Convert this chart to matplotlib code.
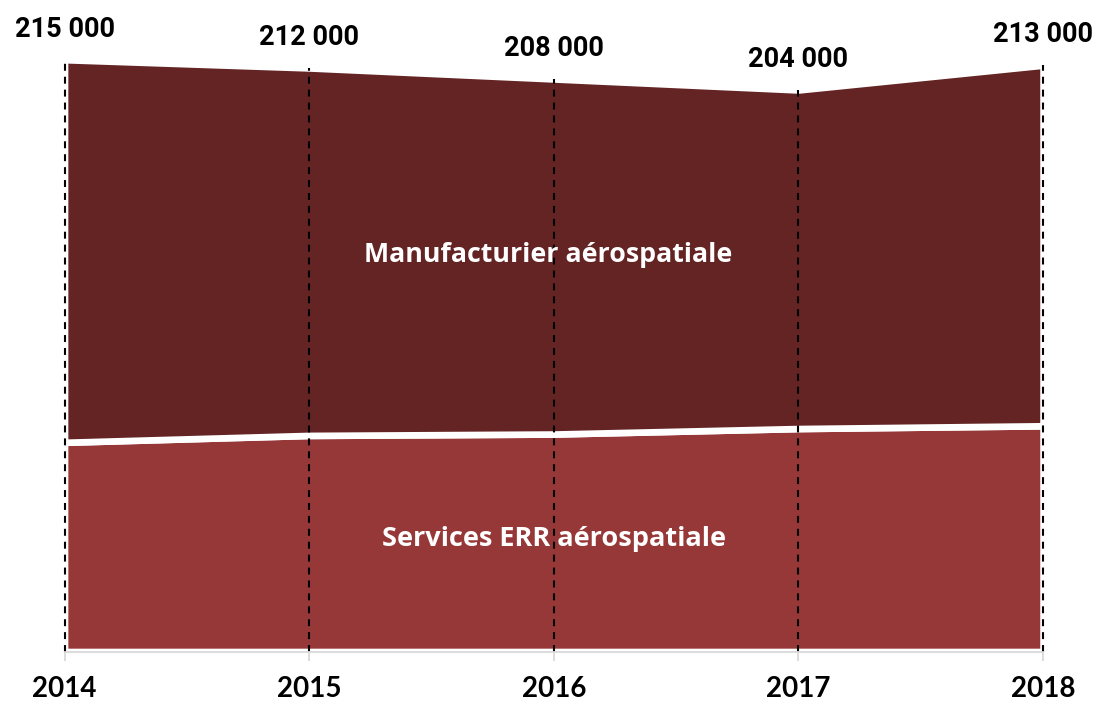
import matplotlib
matplotlib.use("Agg")
import matplotlib.pyplot as plt
import numpy as np

plt.rcParams['lines.scale_dashes'] = False

years = [2014, 2015, 2016, 2017, 2018]
totals = [215000, 212000, 208000, 204000, 213000]
services = [76000, 78500, 79000, 81000, 82000]
manufacturier = [t - s for t, s in zip(totals, services)]
total_labels = ["215 000", "212 000", "208 000", "204 000", "213 000"]
year_labels = ["2014", "2015", "2016", "2017", "2018"]
series_names = ["Services ERR aérospatiale", "Manufacturier aérospatiale"]

col_services = "#963838"
col_manuf = "#642424"

fig = plt.figure(figsize=(10.99, 7.01), dpi=100)
ax = fig.add_axes([0.0587, 0.0706, 0.8904, 0.8639])

ax.stackplot(years, services, manufacturier, colors=[col_services, col_manuf],
             edgecolor="white", linewidth=4.8, zorder=2)

ax.vlines(years, 0, totals, colors="black", linewidth=1.5,
          linestyles=[(0, (5, 4.3))], zorder=4, clip_on=False)

ax.set_xlim(2014, 2018)
ax.set_ylim(0, 220000)

for s in ["top", "left", "right"]:
    ax.spines[s].set_visible(False)
ax.spines["bottom"].set_color("#d9d9d9")
ax.spines["bottom"].set_linewidth(1.3)
ax.spines["bottom"].set_zorder(5)

ax.set_yticks([])
ax.set_xticks(years)
ax.set_xticklabels(year_labels, fontfamily="Lato", fontweight="bold", fontsize=20)
ax.tick_params(axis="x", length=6.5, width=1.3, color="#d9d9d9", pad=11)

for x, t, lab in zip(years, totals, total_labels):
    ax.annotate(lab, (x, t), xytext=(0, 22), textcoords="offset points",
                ha="center", va="center", fontfamily="Roboto", fontweight="bold",
                fontsize=19.5, color="black", annotation_clip=False)

ax.text(2015.977, 144000, series_names[1], ha="center", va="center", color="white",
        fontfamily="Open Sans", fontweight="bold", fontsize=19.3, zorder=6)
ax.text(2016, 41000, series_names[0], ha="center", va="center", color="white",
        fontfamily="Open Sans", fontweight="bold", fontsize=19.5, zorder=6)

fig.savefig("out.png", dpi=100)
